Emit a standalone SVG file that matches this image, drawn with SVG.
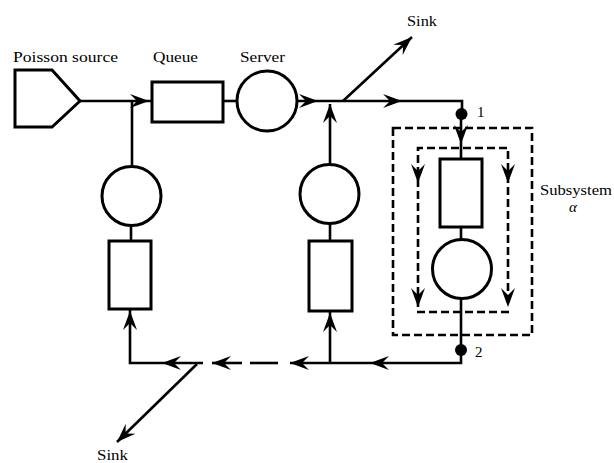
<svg xmlns="http://www.w3.org/2000/svg" xmlns:xlink="http://www.w3.org/1999/xlink" width="614" height="463" viewBox="0 0 614 463">
<style>
.ln{fill:none;stroke:#000;stroke-width:2.6;stroke-linecap:butt}
.dl{fill:none;stroke:#000;stroke-width:2.6;stroke-dasharray:8 4}
.shp{fill:#fff;stroke:#000;stroke-width:3}
.t{font-family:"Liberation Serif","Times New Roman",serif;font-size:15px;fill:#000}
.dot{fill:#000}
</style>
<defs>
<path id="ah" d="M0,0 L-19,-7 L-12,0 L-19,7 Z" fill="#000"/>
</defs>
<rect width="614" height="463" fill="#fff"/>

<g id="connectors">
  <!-- main line -->
  <path class="ln" d="M80,101 H152"/>
  <path class="ln" d="M223,101 H237"/>
  <path class="ln" d="M297,101 H462 V114"/>
  <path class="ln" d="M343,101 L412,37"/>
  <!-- left feedback -->
  <path class="ln" d="M132,101 V167"/>
  <path class="ln" d="M131,225 V241"/>
  <path class="ln" d="M130,309 V363 H203"/>
  <!-- right feedback -->
  <path class="ln" d="M330,104 V165"/>
  <path class="ln" d="M330,223 V241"/>
  <path class="ln" d="M330,311 V363"/>
  <!-- bottom return -->
  <path class="ln" d="M461,350 V363 H290"/>
  <path class="ln" d="M212,363 H242"/>
  <path class="ln" d="M250,363 H278"/>
  <path class="ln" d="M197,364 L117,442"/>
  <!-- subsystem internal -->
  <path class="ln" d="M461,114 V159"/>
  <path class="ln" d="M461,227 V240"/>
  <path class="ln" d="M461,298 V350"/>
  <path class="dl" d="M418,307 V148 H508 V307"/>
  <path class="dl" d="M417,312 H510"/>
  <!-- arrowheads -->
  <use xlink:href="#ah" transform="translate(149,101)"/>
  <use xlink:href="#ah" transform="translate(318,101)"/>
  <use xlink:href="#ah" transform="translate(402,101)"/>
  <use xlink:href="#ah" transform="translate(412,37) rotate(-42.4)"/>
  <use xlink:href="#ah" transform="translate(330,104) rotate(-90)"/>
  <use xlink:href="#ah" transform="translate(461,144) rotate(90)"/>
  <use xlink:href="#ah" transform="translate(418,183) rotate(90)"/>
  <use xlink:href="#ah" transform="translate(418,307) rotate(90)"/>
  <use xlink:href="#ah" transform="translate(508,183) rotate(90)"/>
  <use xlink:href="#ah" transform="translate(508,307) rotate(90)"/>
  <use xlink:href="#ah" transform="translate(370,363) rotate(180)"/>
  <use xlink:href="#ah" transform="translate(290,363) rotate(180)"/>
  <use xlink:href="#ah" transform="translate(212,363) rotate(180)"/>
  <use xlink:href="#ah" transform="translate(162,363) rotate(180)"/>
  <use xlink:href="#ah" transform="translate(330,313) rotate(-90)"/>
  <use xlink:href="#ah" transform="translate(130,311) rotate(-90)"/>
  <use xlink:href="#ah" transform="translate(117,442) rotate(135.7)"/>
</g>

<g id="source">
  <path class="shp" d="M15,70 H52 L80,101 L52,127 H15 Z"/>
  <text class="t" x="13" y="62" textLength="105" lengthAdjust="spacingAndGlyphs">Poisson source</text>
</g>
<g id="queue">
  <rect class="shp" x="152" y="82" width="71" height="40"/>
  <text class="t" x="153" y="62" textLength="45" lengthAdjust="spacingAndGlyphs">Queue</text>
</g>
<g id="server">
  <circle class="shp" cx="267" cy="101" r="30"/>
  <text class="t" x="240" y="62" textLength="45" lengthAdjust="spacingAndGlyphs">Server</text>
</g>
<g id="sink-top">
  <text class="t" x="407" y="26" textLength="30" lengthAdjust="spacingAndGlyphs">Sink</text>
</g>
<g id="sink-bottom">
  <text class="t" x="97" y="460" textLength="31" lengthAdjust="spacingAndGlyphs">Sink</text>
</g>
<g id="left-server">
  <circle class="shp" cx="131.5" cy="196" r="29.5"/>
</g>
<g id="left-queue">
  <rect class="shp" x="109" y="241" width="42" height="68"/>
</g>
<g id="right-server">
  <circle class="shp" cx="329.5" cy="194" r="29.5"/>
</g>
<g id="right-queue">
  <rect class="shp" x="309" y="241" width="43" height="70"/>
</g>
<g id="node1">
  <circle class="dot" cx="461.5" cy="114" r="6"/>
  <text class="t" x="477" y="117">1</text>
</g>
<g id="node2">
  <circle class="dot" cx="461" cy="350" r="6"/>
  <text class="t" x="475" y="357">2</text>
</g>
<g id="subsystem">
  <rect x="393" y="128" width="139" height="207" fill="none" stroke="#000" stroke-width="2.6" stroke-dasharray="8 4"/>
  <rect class="shp" x="440" y="159" width="42" height="68"/>
  <circle class="shp" cx="462" cy="269" r="29.5"/>
  <text class="t" x="540" y="195" textLength="72" lengthAdjust="spacingAndGlyphs">Subsystem</text>
  <text class="t" x="569" y="212" font-style="italic">α</text>
</g>
</svg>
